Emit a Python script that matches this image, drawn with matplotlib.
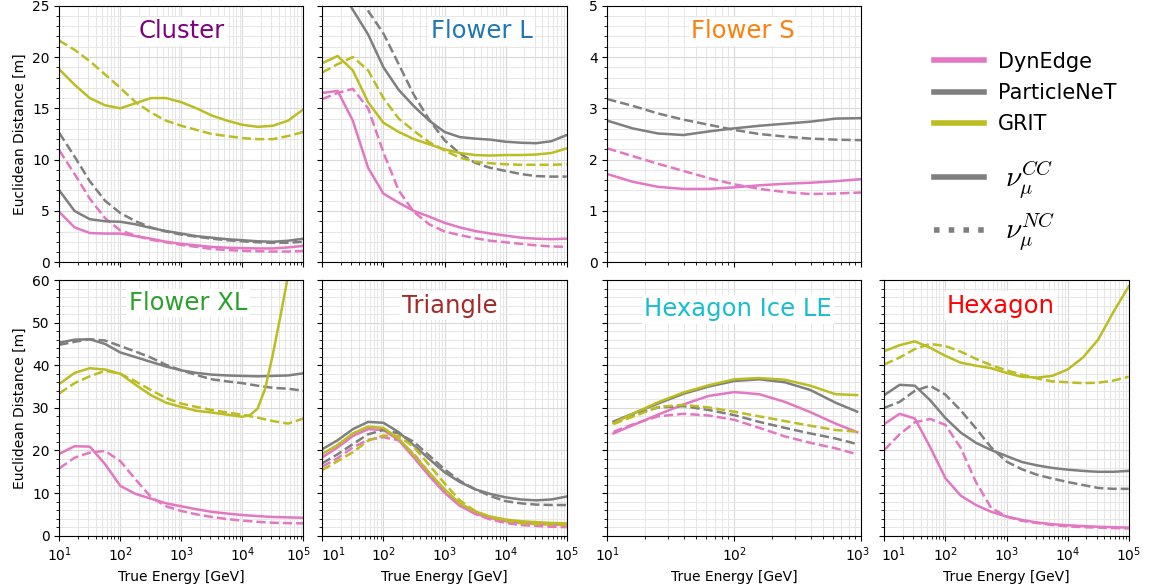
import numpy as np
import matplotlib.pyplot as plt
from matplotlib.lines import Line2D
from matplotlib.font_manager import FontProperties
from matplotlib.ticker import MultipleLocator, NullFormatter
from matplotlib.transforms import ScaledTranslation

# true energy bins [GeV]
energy_wide = [10, 17.8, 31.6, 56.2, 100, 178, 316, 562, 1000, 1778, 3162,
               5623, 10000, 17783, 31623, 56234, 100000]
energy_flower_s = [10, 15.8, 25.1, 39.8, 63.1, 100, 158, 251, 398, 631, 1000]
energy_ice_le = [11.2, 15.8, 25.1, 39.8, 63.1, 100, 158, 251, 398, 631, 933]
energy_xl_grit = [10, 17.8, 31.6, 56.2, 100, 178, 316, 562, 1000, 1778, 3162,
                  5623, 10000, 13335, 17783, 23714, 31623, 42170, 56234,
                  74989, 100000]

# Cluster
cluster_dyn_cc = [4.9, 3.4, 2.85, 2.8, 2.8, 2.55, 2.3, 2.0, 1.8, 1.65, 1.5, 1.42, 1.38, 1.35, 1.35, 1.45, 1.6]
cluster_dyn_nc = [10.9, 8.6, 6.2, 4.3, 3.1, 2.6, 2.2, 1.95, 1.7, 1.5, 1.3, 1.2, 1.12, 1.08, 1.05, 1.05, 1.1]
cluster_pnet_cc = [7.0, 5.0, 4.2, 4.0, 3.95, 3.7, 3.35, 3.05, 2.8, 2.55, 2.4, 2.25, 2.15, 2.05, 2.0, 2.1, 2.3]
cluster_pnet_nc = [12.6, 10.3, 7.9, 6.0, 4.8, 4.0, 3.4, 3.0, 2.7, 2.5, 2.3, 2.15, 2.05, 1.95, 1.9, 1.9, 2.0]
cluster_grit_cc = [18.8, 17.3, 16.0, 15.3, 15.0, 15.5, 16.0, 16.0, 15.6, 15.0, 14.3, 13.8, 13.4, 13.2, 13.3, 13.8, 14.9]
cluster_grit_nc = [21.6, 20.7, 19.6, 18.3, 17.0, 15.6, 14.6, 13.8, 13.3, 12.9, 12.5, 12.3, 12.1, 12.0, 12.0, 12.3, 12.7]

# Flower L
flower_l_dyn_cc = [16.5, 16.7, 13.8, 9.2, 6.7, 5.8, 5.0, 4.45, 3.85, 3.4, 3.05, 2.8, 2.6, 2.4, 2.3, 2.25, 2.3]
flower_l_dyn_nc = [15.9, 16.5, 16.9, 15.0, 10.7, 7.0, 4.9, 3.7, 3.0, 2.65, 2.35, 2.1, 1.95, 1.8, 1.65, 1.55, 1.5]
flower_l_pnet_cc = [29.5, 27.0, 24.6, 22.2, 19.0, 16.8, 15.2, 13.8, 12.7, 12.2, 12.05, 11.95, 11.75, 11.65, 11.6, 11.8, 12.4]
flower_l_pnet_nc = [31.0, 29.0, 27.0, 24.5, 22.3, 19.3, 16.3, 13.9, 11.9, 10.6, 9.7, 9.2, 8.9, 8.6, 8.4, 8.35, 8.35]
flower_l_grit_cc = [19.4, 20.1, 18.7, 15.6, 13.6, 12.7, 12.0, 11.5, 11.0, 10.65, 10.45, 10.4, 10.45, 10.45, 10.5, 10.65, 11.1]
flower_l_grit_nc = [18.5, 19.3, 20.0, 18.7, 16.0, 14.0, 12.8, 11.7, 10.9, 10.2, 9.8, 9.65, 9.55, 9.5, 9.5, 9.5, 9.55]

# Flower S
flower_s_dyn_cc = [1.72, 1.57, 1.47, 1.43, 1.43, 1.46, 1.50, 1.53, 1.55, 1.58, 1.62]
flower_s_dyn_nc = [2.22, 2.07, 1.92, 1.78, 1.64, 1.52, 1.43, 1.37, 1.33, 1.34, 1.36]
flower_s_pnet_cc = [2.76, 2.61, 2.51, 2.48, 2.55, 2.61, 2.66, 2.70, 2.74, 2.80, 2.81]
flower_s_pnet_nc = [3.18, 3.05, 2.90, 2.78, 2.68, 2.58, 2.50, 2.45, 2.41, 2.39, 2.38]

# Flower XL
flower_xl_dyn_cc = [19.2, 21.0, 20.9, 16.8, 11.7, 9.8, 8.7, 7.6, 6.9, 6.2, 5.6, 5.2, 4.85, 4.6, 4.4, 4.3, 4.2]
flower_xl_dyn_nc = [15.8, 18.3, 19.5, 19.9, 17.5, 13.2, 9.1, 6.9, 5.8, 5.0, 4.4, 3.9, 3.55, 3.25, 3.05, 2.95, 2.9]
flower_xl_pnet_cc = [45.3, 46.0, 46.1, 45.0, 43.0, 41.9, 40.8, 39.7, 38.8, 38.2, 37.8, 37.6, 37.5, 37.4, 37.5, 37.6, 38.1]
flower_xl_pnet_nc = [44.8, 45.5, 46.1, 45.8, 44.5, 43.2, 41.8, 40.1, 38.8, 37.7, 36.7, 36.2, 35.8, 35.2, 34.7, 34.5, 34.0]
flower_xl_grit_cc = [35.6, 38.2, 39.3, 39.0, 38.0, 35.4, 33.0, 31.2, 30.2, 29.3, 28.9, 28.4, 27.9,
                     28.3, 29.8, 34.5, 42.5, 51.5, 61.0, 72.0, 84.0]
flower_xl_grit_nc = [33.4, 35.8, 37.4, 38.7, 38.0, 36.2, 34.2, 32.3, 31.0, 30.2, 29.5, 28.9, 28.4, 27.7, 26.9, 26.3, 27.5]

# Triangle
triangle_dyn_cc = [18.4, 20.7, 23.4, 25.0, 24.8, 22.4, 18.3, 14.0, 10.1, 7.0, 5.2, 4.1, 3.4, 3.0, 2.8, 2.6, 2.5]
triangle_dyn_nc = [16.2, 18.2, 20.7, 22.5, 23.1, 22.4, 19.2, 14.7, 10.5, 7.3, 5.1, 3.8, 3.0, 2.5, 2.3, 2.1, 2.0]
triangle_pnet_cc = [20.3, 22.4, 25.0, 26.7, 26.5, 24.3, 21.2, 18.0, 14.9, 12.6, 10.9, 9.8, 9.0, 8.5, 8.3, 8.5, 9.2]
triangle_pnet_nc = [17.0, 19.1, 21.5, 23.8, 24.8, 24.0, 22.0, 18.8, 15.6, 12.9, 10.9, 9.3, 8.1, 7.6, 7.3, 7.2, 7.2]
triangle_grit_cc = [19.2, 21.3, 24.0, 25.6, 25.3, 22.8, 18.9, 14.8, 10.9, 7.6, 5.7, 4.5, 3.8, 3.4, 3.2, 3.0, 2.9]
triangle_grit_nc = [15.4, 17.5, 19.6, 22.3, 23.5, 23.4, 20.8, 16.6, 12.3, 8.3, 5.8, 4.3, 3.5, 2.9, 2.7, 2.6, 2.5]

# Hexagon Ice LE
ice_le_dyn_cc = [24.0, 25.9, 28.4, 30.8, 32.8, 33.7, 33.2, 31.4, 29.0, 26.3, 24.3]
ice_le_dyn_nc = [24.4, 26.1, 28.0, 28.6, 28.2, 27.2, 25.3, 23.3, 21.8, 20.5, 19.1]
ice_le_pnet_cc = [26.8, 28.6, 31.0, 33.3, 35.0, 36.3, 36.7, 36.0, 34.2, 31.2, 29.1]
ice_le_pnet_nc = [26.6, 28.3, 30.1, 30.4, 29.5, 28.3, 26.7, 25.3, 24.0, 22.8, 21.5]
ice_le_grit_cc = [26.4, 28.6, 31.3, 33.6, 35.3, 36.7, 37.0, 36.6, 35.2, 33.2, 33.0]
ice_le_grit_nc = [26.2, 27.9, 30.2, 30.7, 30.1, 29.1, 28.0, 26.9, 25.8, 24.8, 24.4]

# Hexagon
hexagon_dyn_cc = [26.2, 28.6, 27.5, 20.8, 13.5, 9.4, 7.2, 5.6, 4.5, 3.7, 3.1, 2.7, 2.45, 2.25, 2.1, 2.0, 1.9]
hexagon_dyn_nc = [20.1, 23.8, 26.6, 27.4, 26.0, 20.6, 12.6, 6.5, 4.5, 3.5, 3.0, 2.5, 2.2, 2.0, 1.9, 1.8, 1.7]
hexagon_pnet_cc = [33.0, 35.4, 35.2, 31.8, 27.6, 24.2, 21.8, 20.1, 18.7, 17.3, 16.5, 15.9, 15.5, 15.2, 15.0, 15.0, 15.2]
hexagon_pnet_nc = [30.0, 31.4, 34.0, 35.2, 33.1, 29.4, 25.2, 20.7, 17.4, 15.6, 14.3, 13.4, 12.6, 11.9, 11.2, 11.0, 11.0]
hexagon_grit_cc = [43.3, 44.7, 45.6, 44.1, 42.2, 40.6, 39.9, 39.3, 38.2, 37.3, 37.1, 37.5, 39.0, 41.8, 46.0, 52.5, 58.5]
hexagon_grit_nc = [40.2, 41.8, 43.8, 45.0, 44.5, 43.2, 41.5, 40.0, 38.8, 37.8, 36.9, 36.2, 36.0, 35.8, 35.9, 36.4, 37.3]

DYN, PNET, GRIT = '#e377c2', '#7f7f7f', '#bcbd22'
DECADES_WIDE = [10, 100, 1000, 10000, 100000]
DECADES_LOW = [10, 100, 1000]

W, H = 1150, 588
fig = plt.figure(figsize=(W / 100, H / 100), dpi=100)


def add_panel(x0, x1, y0, y1):
    """axes from a pixel box measured from the top-left corner"""
    return fig.add_axes([x0 / W, 1 - y1 / H, (x1 - x0) / W, (y1 - y0) / H])


def style(ax, xticks, ylim, ymaj, ymin, title, tcolor, tx, ty=0.9,
          xlabels=True, ylabels=True):
    ax.set_xscale('log')
    ax.set_xticks(xticks)
    ax.set_xlim(xticks[0], xticks[-1])
    ax.set_ylim(*ylim)
    ax.yaxis.set_major_locator(MultipleLocator(ymaj))
    ax.yaxis.set_minor_locator(MultipleLocator(ymin))
    ax.xaxis.set_minor_formatter(NullFormatter())
    ax.grid(True, which='major', color='#d9d9d9', lw=0.8)
    ax.grid(True, which='minor', color='#e6e6e6', lw=0.7)
    ax.set_axisbelow(True)
    ax.tick_params(labelsize=10)
    if not xlabels:
        ax.tick_params(labelbottom=False)
    else:
        ax.set_xlabel('True Energy [GeV]', fontsize=10)
    if not ylabels:
        ax.tick_params(labelleft=False)
    ax.text(tx, ty, title, transform=ax.transAxes, ha='center', va='center',
            fontsize=17.5, color=tcolor, zorder=5,
            bbox=dict(facecolor='white', edgecolor='none', pad=1.5))


def nudge_xlabel(ax, idx, dx_px):
    """shift one x tick label sideways so neighbouring panels don't collide"""
    lab = ax.xaxis.get_major_ticks()[idx].label1
    lab.set_transform(lab.get_transform() + ScaledTranslation(dx_px / 100, 0, fig.dpi_scale_trans))


def draw(ax, energy, cc, nc, color, energy_cc=None):
    ax.plot(energy if energy_cc is None else energy_cc, cc, color=color, lw=1.8)
    ax.plot(energy, nc, color=color, lw=1.8, ls='--')


# top row
ax = add_panel(59.3, 303.3, 5.7, 262.3)
draw(ax, energy_wide, cluster_dyn_cc, cluster_dyn_nc, DYN)
draw(ax, energy_wide, cluster_pnet_cc, cluster_pnet_nc, PNET)
draw(ax, energy_wide, cluster_grit_cc, cluster_grit_nc, GRIT)
style(ax, DECADES_WIDE, (0, 25), 5, 1, 'Cluster', 'purple', 0.5, xlabels=False)
ax.set_ylabel('Euclidean Distance [m]', fontsize=10)

ax = add_panel(322.3, 566.7, 5.7, 262.3)
draw(ax, energy_wide, flower_l_dyn_cc, flower_l_dyn_nc, DYN)
draw(ax, energy_wide, flower_l_pnet_cc, flower_l_pnet_nc, PNET)
draw(ax, energy_wide, flower_l_grit_cc, flower_l_grit_nc, GRIT)
style(ax, DECADES_WIDE, (0, 25), 5, 1, 'Flower L', 'tab:blue', 0.652,
      xlabels=False, ylabels=False)

ax = add_panel(607.3, 861, 5.7, 262.3)
draw(ax, energy_flower_s, flower_s_dyn_cc, flower_s_dyn_nc, DYN)
draw(ax, energy_flower_s, flower_s_pnet_cc, flower_s_pnet_nc, PNET)
style(ax, DECADES_LOW, (0, 5), 1, 0.2, 'Flower S', 'tab:orange', 0.535,
      xlabels=False)

# bottom row
ax = add_panel(59.3, 303.3, 280, 535.7)
draw(ax, energy_wide, flower_xl_dyn_cc, flower_xl_dyn_nc, DYN)
draw(ax, energy_wide, flower_xl_pnet_cc, flower_xl_pnet_nc, PNET)
draw(ax, energy_wide, flower_xl_grit_cc, flower_xl_grit_nc, GRIT,
     energy_cc=energy_xl_grit)
style(ax, DECADES_WIDE, (0, 60), 10, 2, 'Flower XL', 'tab:green', 0.53, ty=0.91)
ax.set_ylabel('Euclidean Distance [m]', fontsize=10)
nudge_xlabel(ax, -1, -4.5)

ax = add_panel(322.3, 566.7, 280, 535.7)
draw(ax, energy_wide, triangle_dyn_cc, triangle_dyn_nc, DYN)
draw(ax, energy_wide, triangle_pnet_cc, triangle_pnet_nc, PNET)
draw(ax, energy_wide, triangle_grit_cc, triangle_grit_nc, GRIT)
style(ax, DECADES_WIDE, (0, 60), 10, 2, 'Triangle', 'brown', 0.522,
      ylabels=False)
nudge_xlabel(ax, 0, 11)

ax = add_panel(607.3, 861, 280, 535.7)
draw(ax, energy_ice_le, ice_le_dyn_cc, ice_le_dyn_nc, DYN)
draw(ax, energy_ice_le, ice_le_pnet_cc, ice_le_pnet_nc, PNET)
draw(ax, energy_ice_le, ice_le_grit_cc, ice_le_grit_nc, GRIT)
style(ax, DECADES_LOW, (0, 60), 10, 2, 'Hexagon Ice LE', 'tab:cyan', 0.515,
      ty=0.885, ylabels=False)
nudge_xlabel(ax, -1, -3.5)

ax = add_panel(884.3, 1128.7, 280, 535.7)
draw(ax, energy_wide, hexagon_dyn_cc, hexagon_dyn_nc, DYN)
draw(ax, energy_wide, hexagon_pnet_cc, hexagon_pnet_nc, PNET)
draw(ax, energy_wide, hexagon_grit_cc, hexagon_grit_nc, GRIT)
style(ax, DECADES_WIDE, (0, 60), 10, 2, 'Hexagon', 'red', 0.477,
      ylabels=False)
nudge_xlabel(ax, 0, 9)

# legends in the free top-right slot: models, then interaction type
model_handles = [Line2D([], [], color=DYN, lw=4),
                 Line2D([], [], color=PNET, lw=4),
                 Line2D([], [], color=GRIT, lw=4)]
fig.legend(model_handles, ['DynEdge', 'ParticleNeT', 'GRIT'], loc='upper left',
           bbox_to_anchor=(934 / W, 1 - 51.5 / H), frameon=False, fontsize=15,
           handlelength=2.4, handletextpad=0.65, borderpad=0, borderaxespad=0,
           labelspacing=0.55)

flavour_handles = [Line2D([], [], color=PNET, lw=4, ls='-'),
                   Line2D([], [], color=PNET, lw=4, ls=':')]
fig.legend(flavour_handles, [r'$\nu_\mu^{CC}$', r'$\nu_\mu^{NC}$'], loc='upper left',
           bbox_to_anchor=(934 / W, 1 - 160 / H), frameon=False,
           prop=FontProperties(size=21, math_fontfamily='cm'),
           handlelength=1.71, handletextpad=0.72, borderpad=0, borderaxespad=0,
           labelspacing=0.38)

fig.savefig('out.png', dpi=100)
